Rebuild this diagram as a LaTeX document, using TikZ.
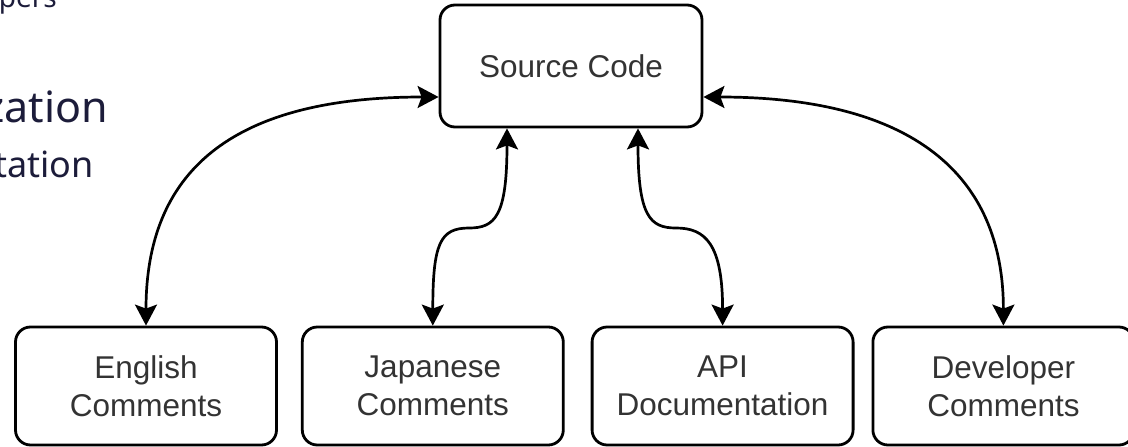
\documentclass[tikz,border=0pt]{standalone}
\usepackage{fontspec}
\setmainfont{Liberation Sans}
\newfontfamily\slidefont{Noto Sans}
\usetikzlibrary{positioning,arrows.meta}
\definecolor{slidenavy}{RGB}{28,28,58}

\begin{document}
\begin{tikzpicture}[x=1pt,y=-1pt]

		\tikzstyle{block}=[rectangle,
			draw=black,line width=2.8pt,rounded corners=15pt,
			minimum height=118pt,minimum width=261pt,
			align=center,inner sep=0pt,text=black!80,
			font=\fontsize{31.5}{38}\selectfont]
		\tikzstyle{link}=[{Stealth[length=21pt,width=22pt,inset=4pt]}-{Stealth[length=21pt,width=22pt,inset=4pt]},
			draw=black,line width=2.7pt]
		\tikzstyle{slide}=[inner sep=0pt,text=slidenavy,anchor=base east]

		\useasboundingbox (0,0) rectangle (1128,447);

		% cut-off slide text on the left
		\node[slide,font=\slidefont\fontsize{28}{34}\selectfont]	(topword)	at (57,7)	{pers};
		\node[slide,font=\slidefont\fontsize{43}{50}\selectfont]	(midword)	at (108,122)	{zation};
		\node[slide,font=\slidefont\fontsize{36}{44}\selectfont]	(lowword)	at (94,177)	{tation};

		\node[block,minimum width=262pt,minimum height=122pt]	(source)	at (571,66)	{Source Code};
		\node[block]	(english)	at (146,386)	{English\\ Comments};
		\node[block,right=23pt of english]	(japanese)	{Japanese\\ Comments};
		\node[block,right=26pt of japanese]	(api)	{API\\ Documentation};
		\node[block,right=17pt of api]	(developer)	{Developer\\ Comments};

		\coordinate	(jbend)	at (469,228);
		\coordinate	(abend)	at (676,228);

		\draw[link]	([yshift=-31pt]source.west)	.. controls +(-210,0) and +(0,-152) ..	(english.north);
		\draw[link]	([xshift=-64pt]source.south)	.. controls +(0,88) and +(26,0) ..	(jbend)
			.. controls +(-29,0) and +(0,-82) ..	(japanese.north);
		\draw[link]	([xshift=67pt]source.south)	.. controls +(0,88) and +(-26,0) ..	(abend)
			.. controls +(29,0) and +(0,-82) ..	(api.north);
		\draw[link]	([yshift=-31pt]source.east)	.. controls +(208,0) and +(0,-152) ..	(developer.north);

	\end{tikzpicture}
\end{document}
